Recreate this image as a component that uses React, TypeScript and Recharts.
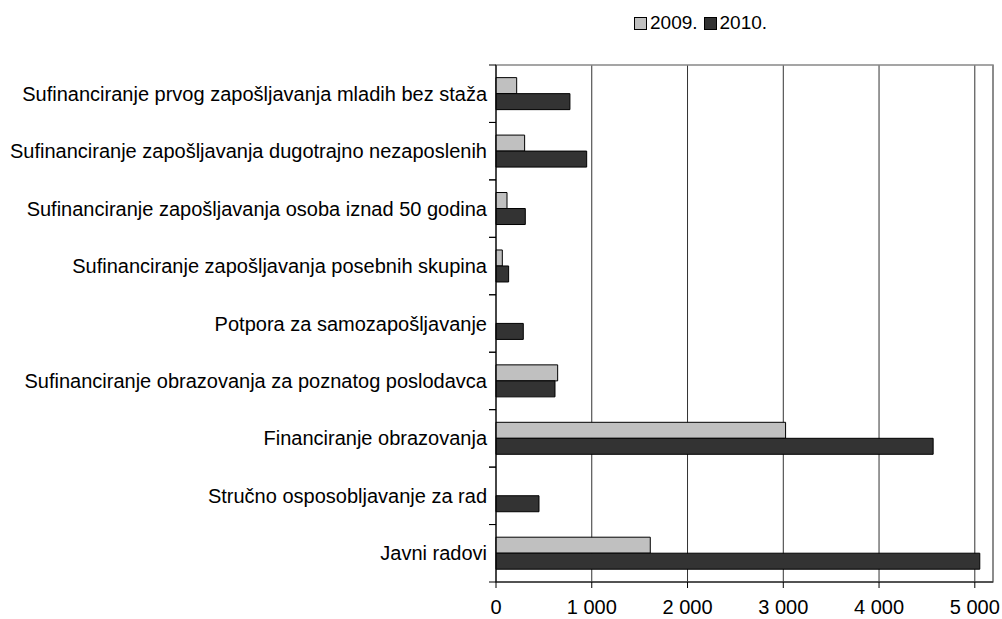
import React from 'react';
import {
  BarChart,
  Bar,
  XAxis,
  YAxis,
  CartesianGrid,
  Legend,
  ReferenceArea
} from 'recharts';

const categories = [
  'Sufinanciranje prvog zapošljavanja mladih bez staža',
  'Sufinanciranje zapošljavanja dugotrajno nezaposlenih',
  'Sufinanciranje zapošljavanja osoba iznad 50 godina',
  'Sufinanciranje zapošljavanja posebnih skupina',
  'Potpora za samozapošljavanje',
  'Sufinanciranje obrazovanja za poznatog poslodavca',
  'Financiranje obrazovanja',
  'Stručno osposobljavanje za rad',
  'Javni radovi'
];

const values2009 = [216, 299, 115, 66, 0, 644, 3024, 0, 1611];
const values2010 = [772, 947, 306, 132, 285, 616, 4565, 449, 5052];

const xTicks = [0, 1000, 2000, 3000, 4000, 5000];

const data = categories.map((name, i) => ({
  name,
  y2009: values2009[i] || null,
  y2010: values2010[i]
}));

const FONT = '"Liberation Sans", Arial, sans-serif';

// thousands with a space, e.g. 1 000
const fmt = (v: number) => String(v).replace(/\B(?=(\d{3})+(?!\d))/g, ' ');

function CategoryTick(props: any) {
  const { x, y, payload } = props;
  const ax = x + 2; // axis line position
  const half = payload.offset || 29.95;
  return (
    <g>
      <line x1={ax - 7} x2={ax} y1={y - half} y2={y - half} stroke="#000" />
      <line x1={ax - 7} x2={ax} y1={y + half} y2={y + half} stroke="#000" />
      <text
        x={ax - 9}
        y={y}
        dy="0.35em"
        textAnchor="end"
        fontSize={20}
        fontFamily={FONT}
        fill="#000"
      >
        {payload.value}
      </text>
    </g>
  );
}

function LegendBox() {
  const items = [
    { label: '2009.', color: '#c0c0c0' },
    { label: '2010.', color: '#333333' }
  ];
  return (
    <div style={{ display: 'flex', alignItems: 'center', fontFamily: FONT, fontSize: 19, lineHeight: '22px' }}>
      {items.map((it) => (
        <span key={it.label} style={{ display: 'flex', alignItems: 'center', marginRight: 6 }}>
          <span
            style={{
              width: 11,
              height: 11,
              background: it.color,
              border: '1px solid #000',
              marginRight: 3,
              display: 'inline-block'
            }}
          />
          <span>{it.label}</span>
        </span>
      ))}
    </div>
  );
}

export default function App() {
  return (
    <div style={{ position: 'absolute', left: 0, top: 0, width: 1002, height: 619, background: '#fff' }}>
      <BarChart
        width={1002}
        height={619}
        data={data}
        layout="vertical"
        margin={{ top: 43, right: 9, bottom: 0, left: 0 }}
        barCategoryGap="22%"
        barGap={0}
      >
        <CartesianGrid horizontal={false} stroke="#333" strokeWidth={1} />
        <ReferenceArea x1={0} x2={5190} fill="none" stroke="#888" strokeWidth={1.5} ifOverflow="visible" />
        <XAxis
          type="number"
          domain={[0, 5190]}
          ticks={xTicks}
          tickFormatter={fmt}
          height={37}
          tickSize={6}
          tickMargin={12}
          stroke="#000"
          tick={{ fill: '#000', fontSize: 20, fontFamily: FONT }}
        />
        <YAxis
          type="category"
          dataKey="name"
          width={496}
          tickLine={false}
          tickSize={0}
          tickMargin={2}
          stroke="#000"
          interval={0}
          tick={<CategoryTick />}
        />
        <Legend
          verticalAlign="top"
          align="left"
          content={<LegendBox />}
          wrapperStyle={{ top: 12, left: 634, width: 220 }}
        />
        <Bar dataKey="y2009" name="2009." fill="#c0c0c0" stroke="#000" strokeWidth={1} isAnimationActive={false} />
        <Bar dataKey="y2010" name="2010." fill="#333333" stroke="#000" strokeWidth={1} isAnimationActive={false} />
      </BarChart>
    </div>
  );
}
